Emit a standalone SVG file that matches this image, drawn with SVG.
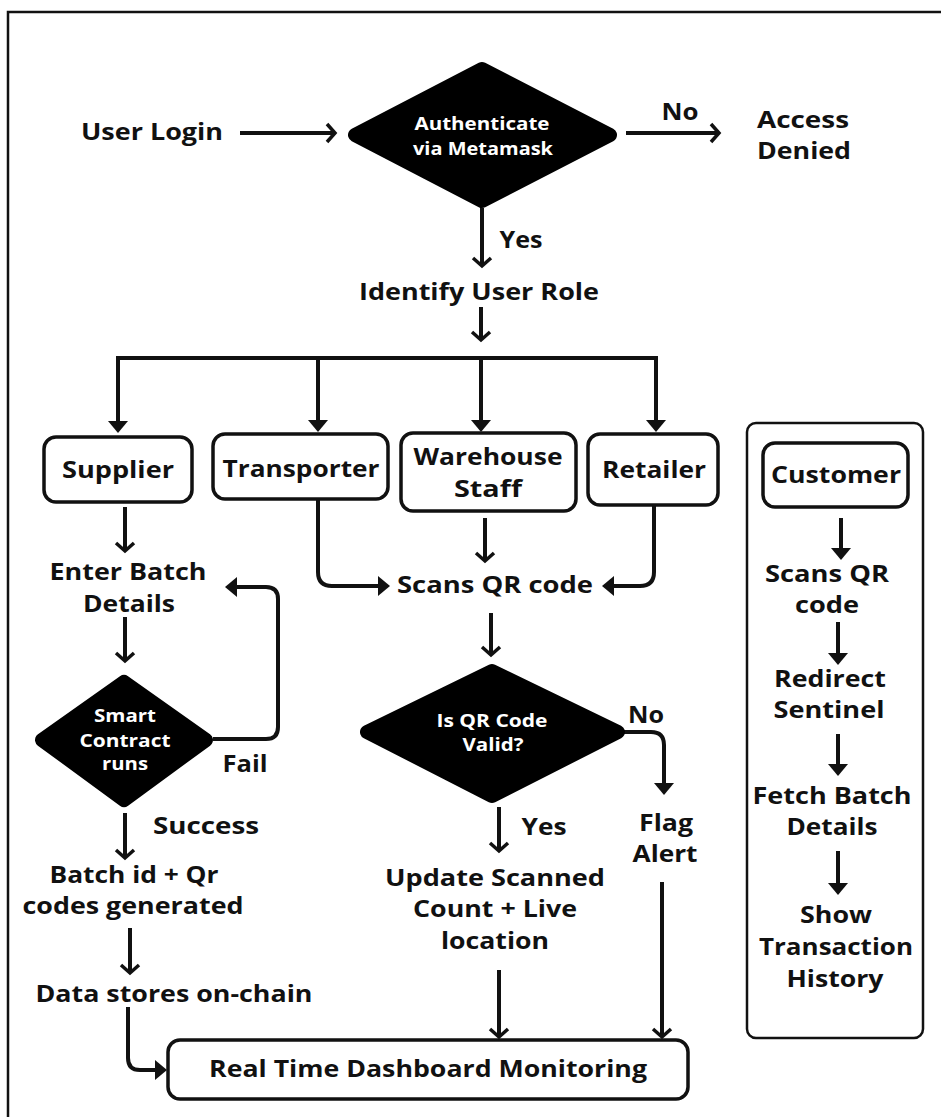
<svg xmlns="http://www.w3.org/2000/svg" width="941" height="1117" viewBox="0 0 941 1117">
<style>
  text { font-family: "Open Sans", "Liberation Sans", sans-serif; font-weight: 700; fill: #111; font-size: 23px; text-anchor: middle; }
  text.w { fill: #fff; font-size: 17px; }
  .box { fill: #fff; stroke: #111; stroke-width: 3.5; }
  .dia { fill: #000; stroke: #000; stroke-width: 14; stroke-linejoin: round; }
  .ln { fill: none; stroke: #111; stroke-width: 4; }
</style>
<defs>
  <marker id="chev" markerUnits="userSpaceOnUse" orient="auto" refX="0" refY="0" markerWidth="1" markerHeight="1" overflow="visible">
    <path d="M-8,-9 L0,0 L-8,9" fill="none" stroke="#111" stroke-width="3.5"/>
  </marker>
  <marker id="tri" markerUnits="userSpaceOnUse" orient="auto" refX="0" refY="0" markerWidth="1" markerHeight="1" overflow="visible">
    <path d="M-4,-10 L8,0 L-4,10 z" fill="#111"/>
  </marker>
</defs>

<path d="M8,1117 V12 H941" fill="none" stroke="#111" stroke-width="2.5"/>

<g id="connectors">
  <path class="ln" d="M240,133 H335" marker-end="url(#chev)"/>
  <path class="ln" d="M626,133 H719" marker-end="url(#chev)"/>
  <path class="ln" d="M482,208 V266" marker-end="url(#chev)"/>
  <path class="ln" d="M481,307 V340" marker-end="url(#chev)"/>
  <path class="ln" d="M118,358 H656"/>
  <path class="ln" d="M118,356 V425" marker-end="url(#tri)"/>
  <path class="ln" d="M318,358 V424" marker-end="url(#tri)"/>
  <path class="ln" d="M481,358 V424" marker-end="url(#tri)"/>
  <path class="ln" d="M656,356 V424" marker-end="url(#tri)"/>
  <path class="ln" d="M125,507 V551" marker-end="url(#chev)"/>
  <path class="ln" d="M125,617 V661" marker-end="url(#chev)"/>
  <path class="ln" d="M213,739 H266 Q278,739 278,727 V599 Q278,587 266,587 H233" marker-end="url(#tri)"/>
  <path class="ln" d="M125,813 V858" marker-end="url(#chev)"/>
  <path class="ln" d="M130,928 V973" marker-end="url(#chev)"/>
  <path class="ln" d="M128,1007 V1058 Q128,1070 140,1070 H159" marker-end="url(#tri)"/>
  <path class="ln" d="M318,499 V572 Q318,586 332,586 H382" marker-end="url(#tri)"/>
  <path class="ln" d="M485,518 V561" marker-end="url(#chev)"/>
  <path class="ln" d="M654,505 V572 Q654,586 640,586 H610" marker-end="url(#tri)"/>
  <path class="ln" d="M491,613 V655" marker-end="url(#chev)"/>
  <path class="ln" d="M622,732 H651 Q664,732 664,745 V787" marker-end="url(#tri)"/>
  <path class="ln" d="M499,807 V851" marker-end="url(#chev)"/>
  <path class="ln" d="M499,970 V1037" marker-end="url(#chev)"/>
  <path class="ln" d="M662,882 V1037" marker-end="url(#chev)"/>
  <path class="ln" d="M841,518 V552" marker-end="url(#tri)"/>
  <path class="ln" d="M838,622 V657" marker-end="url(#tri)"/>
  <path class="ln" d="M838,734 V768" marker-end="url(#tri)"/>
  <path class="ln" d="M838,851 V887" marker-end="url(#tri)"/>
</g>

<g id="user-login"><text x="152" y="140" textLength="142" lengthAdjust="spacingAndGlyphs">User Login</text></g>
<g id="authenticate">
  <polygon class="dia" points="482,69 610,135 482,201 355,135"/>
  <text class="w" x="482" y="130" textLength="135" lengthAdjust="spacingAndGlyphs">Authenticate</text>
  <text class="w" x="483" y="155" textLength="140" lengthAdjust="spacingAndGlyphs">via Metamask</text>
</g>
<g id="label-no-auth"><text x="680" y="120" textLength="37" lengthAdjust="spacingAndGlyphs">No</text></g>
<g id="access-denied">
  <text x="803" y="128" textLength="92" lengthAdjust="spacingAndGlyphs">Access</text>
  <text x="804" y="159" textLength="94" lengthAdjust="spacingAndGlyphs">Denied</text>
</g>
<g id="label-yes-auth"><text x="521" y="248" textLength="43" lengthAdjust="spacingAndGlyphs">Yes</text></g>
<g id="identify-role"><text x="479" y="300" textLength="240" lengthAdjust="spacingAndGlyphs">Identify User Role</text></g>

<g id="supplier">
  <rect class="box" x="44" y="437" width="148" height="65" rx="12"/>
  <text x="118" y="478" textLength="112" lengthAdjust="spacingAndGlyphs">Supplier</text>
</g>
<g id="transporter">
  <rect class="box" x="213" y="434" width="175" height="65" rx="12"/>
  <text x="301" y="477" textLength="157" lengthAdjust="spacingAndGlyphs">Transporter</text>
</g>
<g id="warehouse">
  <rect class="box" x="401" y="433" width="175" height="78" rx="12"/>
  <text x="488" y="465" textLength="149" lengthAdjust="spacingAndGlyphs">Warehouse</text>
  <text x="488" y="497" textLength="68" lengthAdjust="spacingAndGlyphs">Staff</text>
</g>
<g id="retailer">
  <rect class="box" x="588" y="434" width="130" height="71" rx="12"/>
  <text x="654" y="478" textLength="104" lengthAdjust="spacingAndGlyphs">Retailer</text>
</g>

<g id="customer-panel">
  <rect x="747" y="423" width="176" height="615" rx="9" fill="none" stroke="#111" stroke-width="2.5"/>
</g>
<g id="customer">
  <rect class="box" x="763" y="443" width="145" height="64" rx="12"/>
  <text x="836" y="483" textLength="130" lengthAdjust="spacingAndGlyphs">Customer</text>
</g>
<g id="cust-scan">
  <text x="827" y="582" textLength="124" lengthAdjust="spacingAndGlyphs">Scans QR</text>
  <text x="827" y="613" textLength="64" lengthAdjust="spacingAndGlyphs">code</text>
</g>
<g id="redirect">
  <text x="830" y="687" textLength="112" lengthAdjust="spacingAndGlyphs">Redirect</text>
  <text x="829" y="718" textLength="111" lengthAdjust="spacingAndGlyphs">Sentinel</text>
</g>
<g id="fetch">
  <text x="832" y="804" textLength="159" lengthAdjust="spacingAndGlyphs">Fetch Batch</text>
  <text x="832" y="835" textLength="91" lengthAdjust="spacingAndGlyphs">Details</text>
</g>
<g id="history">
  <text x="836" y="923" textLength="72" lengthAdjust="spacingAndGlyphs">Show</text>
  <text x="836" y="955" textLength="154" lengthAdjust="spacingAndGlyphs">Transaction</text>
  <text x="835" y="987" textLength="97" lengthAdjust="spacingAndGlyphs">History</text>
</g>

<g id="enter-batch">
  <text x="128" y="580" textLength="157" lengthAdjust="spacingAndGlyphs">Enter Batch</text>
  <text x="129" y="612" textLength="92" lengthAdjust="spacingAndGlyphs">Details</text>
</g>
<g id="smart-contract">
  <polygon class="dia" points="124,682 206,740 124,800 42,740"/>
  <text class="w" x="125" y="722" textLength="62" lengthAdjust="spacingAndGlyphs">Smart</text>
  <text class="w" x="125" y="747" textLength="91" lengthAdjust="spacingAndGlyphs">Contract</text>
  <text class="w" x="125" y="770" textLength="46" lengthAdjust="spacingAndGlyphs">runs</text>
</g>
<g id="label-fail"><text x="245" y="772" textLength="45" lengthAdjust="spacingAndGlyphs">Fail</text></g>
<g id="label-success"><text x="206" y="834" textLength="106" lengthAdjust="spacingAndGlyphs">Success</text></g>
<g id="batch-generated">
  <text x="134" y="883" textLength="169" lengthAdjust="spacingAndGlyphs">Batch id + Qr</text>
  <text x="133" y="914" textLength="221" lengthAdjust="spacingAndGlyphs">codes generated</text>
</g>
<g id="data-stores"><text x="174" y="1002" textLength="277" lengthAdjust="spacingAndGlyphs">Data stores on-chain</text></g>

<g id="scans-qr"><text x="495" y="593" textLength="196" lengthAdjust="spacingAndGlyphs">Scans QR code</text></g>
<g id="qr-valid">
  <polygon class="dia" points="492,671 618,732 492,796 367,732"/>
  <text class="w" x="492" y="727" textLength="111" lengthAdjust="spacingAndGlyphs">Is QR Code</text>
  <text class="w" x="493" y="751" textLength="61" lengthAdjust="spacingAndGlyphs">Valid?</text>
</g>
<g id="label-no-qr"><text x="646" y="723" textLength="36" lengthAdjust="spacingAndGlyphs">No</text></g>
<g id="label-yes-qr"><text x="544" y="835" textLength="45" lengthAdjust="spacingAndGlyphs">Yes</text></g>
<g id="flag-alert">
  <text x="666" y="831" textLength="54" lengthAdjust="spacingAndGlyphs">Flag</text>
  <text x="665" y="862" textLength="65" lengthAdjust="spacingAndGlyphs">Alert</text>
</g>
<g id="update-count">
  <text x="495" y="886" textLength="220" lengthAdjust="spacingAndGlyphs">Update Scanned</text>
  <text x="495" y="917" textLength="164" lengthAdjust="spacingAndGlyphs">Count + Live</text>
  <text x="495" y="949" textLength="108" lengthAdjust="spacingAndGlyphs">location</text>
</g>

<g id="dashboard">
  <rect class="box" x="168" y="1040" width="520" height="59" rx="12"/>
  <text x="428" y="1077" textLength="438" lengthAdjust="spacingAndGlyphs">Real Time Dashboard Monitoring</text>
</g>
</svg>
